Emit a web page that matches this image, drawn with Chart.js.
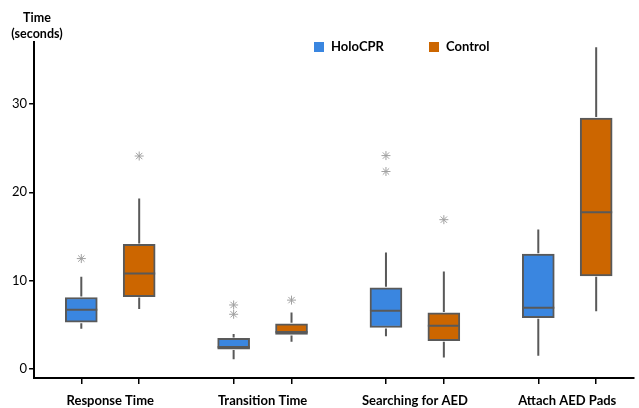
<!DOCTYPE html>
<html lang="en">
<head>
  <meta charset="UTF-8">
  <title>Task Times</title>
  <script src="https://cdn.jsdelivr.net/npm/chart.js"></script>
  <style>
    html, body { margin: 0; padding: 0; background: #fff; overflow: hidden; }
    #wrap { position: relative; width: 639px; height: 408px; }
    canvas { display: block; }
  </style>
</head>
<body>
  <div id="wrap"><canvas id="chartCanvas"></canvas></div>

  <script>
    // data (seconds)
    const categories = ['Response Time', 'Transition Time', 'Searching for AED', 'Attach AED Pads'];
    const seriesNames = ['HoloCPR', 'Control'];
    const yTicks = [0, 10, 20, 30];

    const holoMin = [4.55, 1.1, 3.7, 1.5];
    const holoQ1 = [5.3, 2.26, 4.7, 5.8];
    const holoMedian = [6.7, 2.5, 6.6, 6.95];
    const holoQ3 = [8.1, 3.47, 9.2, 13.0];
    const holoMax = [10.45, 3.96, 13.2, 15.8];
    const holoOutliers = [[12.5], [7.25, 6.2], [24.15, 22.35], []];

    const ctrlMin = [6.8, 3.1, 1.3, 6.55];
    const ctrlQ1 = [8.2, 3.92, 3.2, 10.55];
    const ctrlMedian = [10.8, 4.2, 4.9, 17.75];
    const ctrlQ3 = [14.1, 5.13, 6.35, 28.4];
    const ctrlMax = [19.3, 6.4, 11.05, 36.4];
    const ctrlOutliers = [[24.1], [7.8], [16.9], []];

    const holoColor = '#3a86e0';
    const ctrlColor = '#cc6600';
    const lineColor = '#595959';
    const offset = 0.19;
    const labelFont = { family: 'Lato', size: 13, weight: 'bold', lineHeight: 1.2 };

    function boxes(q1, q3, shift) {
      return categories.map((c, i) => ({ x: i + shift, y: [q1[i], q3[i]] }));
    }
    function outliers(list, shift) {
      const pts = [];
      list.forEach((vals, i) => vals.forEach(v => pts.push({ x: i + shift, y: v })));
      return pts;
    }

    const boxStats = [
      { min: holoMin, med: holoMedian, max: holoMax, q1: holoQ1, q3: holoQ3, shift: -offset },
      { min: ctrlMin, med: ctrlMedian, max: ctrlMax, q1: ctrlQ1, q3: ctrlQ3, shift: offset }
    ];

    // whiskers and medians, placed through the chart scales
    const whiskerPlugin = {
      id: 'whiskers',
      afterDatasetsDraw(chart) {
        const ctx = chart.ctx;
        const xs = chart.scales.x;
        const ys = chart.scales.y;
        ctx.save();
        ctx.strokeStyle = lineColor;
        ctx.lineWidth = 2;
        boxStats.forEach(s => {
          categories.forEach((c, i) => {
            const px = xs.getPixelForValue(i + s.shift);
            ctx.beginPath();
            ctx.moveTo(px, ys.getPixelForValue(s.max[i]));
            ctx.lineTo(px, ys.getPixelForValue(s.q3[i]) - 1);
            ctx.moveTo(px, ys.getPixelForValue(s.q1[i]) + 1);
            ctx.lineTo(px, ys.getPixelForValue(s.min[i]));
            const my = ys.getPixelForValue(s.med[i]);
            ctx.moveTo(px - 16, my);
            ctx.lineTo(px + 16, my);
            ctx.stroke();
          });
        });
        ctx.restore();
      }
    };

    // y title and legend drawn inside the top of the plot
    const headerPlugin = {
      id: 'header',
      afterDraw(chart) {
        const ctx = chart.ctx;
        ctx.save();
        ctx.fillStyle = '#000';
        ctx.font = 'bold 12.5px Lato';
        ctx.textAlign = 'center';
        ctx.textBaseline = 'middle';
        ctx.fillText('Time', 37, 18);
        ctx.fillText('(seconds)', 37, 34);

        const items = [[holoColor, 314], [ctrlColor, 429]];
        ctx.font = 'bold 13px Lato';
        ctx.textAlign = 'left';
        items.forEach((it, k) => {
          ctx.fillStyle = it[0];
          ctx.fillRect(it[1], 42, 10, 10);
          ctx.fillStyle = '#000';
          ctx.fillText(seriesNames[k], it[1] + 17, 47);
        });
        ctx.restore();
      }
    };

    new Chart(document.getElementById('chartCanvas'), {
      type: 'bar',
      data: {
        datasets: [
          {
            label: seriesNames[0],
            data: boxes(holoQ1, holoQ3, -offset),
            backgroundColor: holoColor,
            borderColor: lineColor,
            borderWidth: 2,
            borderSkipped: false,
            barThickness: 32,
            grouped: false
          },
          {
            label: seriesNames[1],
            data: boxes(ctrlQ1, ctrlQ3, offset),
            backgroundColor: ctrlColor,
            borderColor: lineColor,
            borderWidth: 2,
            borderSkipped: false,
            barThickness: 32,
            grouped: false
          },
          {
            type: 'line',
            label: 'outliers',
            data: outliers(holoOutliers, -offset).concat(outliers(ctrlOutliers, offset)),
            showLine: false,
            pointStyle: 'star',
            pointRadius: 4.5,
            pointBorderColor: '#a0a0a0',
            pointBorderWidth: 1,
            pointBackgroundColor: '#a0a0a0'
          }
        ]
      },
      options: {
        responsive: true,
        maintainAspectRatio: false,
        animation: false,
        layout: { padding: { top: 42, left: 10, right: 0, bottom: -1.5 } },
        plugins: {
          legend: { display: false },
          tooltip: { enabled: false }
        },
        scales: {
          x: {
            type: 'linear',
            position: 'bottom',
            offset: false,
            min: -0.5,
            max: 3.435,
            afterBuildTicks(scale) {
              const t = [];
              categories.forEach((c, i) => { t.push({ value: i - offset }, { value: i + offset }); });
              scale.ticks = t;
            },
            ticks: { display: false },
            grid: { offset: false, drawOnChartArea: false, tickLength: 6, color: '#000', lineWidth: 1.5 },
            border: { color: '#000', width: 2 }
          },
          xLabels: {
            type: 'linear',
            position: 'bottom',
            offset: false,
            min: -0.5,
            max: 3.435,
            afterBuildTicks(scale) {
              scale.ticks = categories.map((c, i) => ({ value: i }));
            },
            ticks: {
              callback: (v) => categories[Math.round(v)],
              font: labelFont,
              color: '#000',
              padding: 1,
              maxRotation: 0,
              autoSkip: false
            },
            grid: { display: false, offset: false },
            border: { display: false }
          },
          y: {
            min: -1,
            max: 37,
            afterBuildTicks(scale) {
              scale.ticks = yTicks.map(v => ({ value: v }));
            },
            ticks: {
              font: { family: 'Lato', size: 13 },
              color: '#000',
              padding: 2
            },
            grid: { drawOnChartArea: false, tickLength: 5, color: '#000', lineWidth: 1.5 },
            border: { color: '#000', width: 2 }
          }
        }
      },
      plugins: [whiskerPlugin, headerPlugin]
    });
  </script>
</body>
</html>
